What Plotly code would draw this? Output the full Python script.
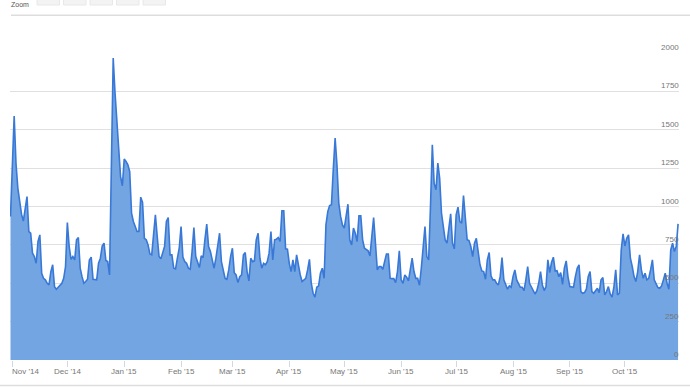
import pandas as pd
import plotly.graph_objects as go

# ---- data (daily values) ----
start_date = "2014-10-31"
oct14 = [935]
nov14 = [1250, 1590, 1280, 1120, 1035, 950, 905, 990, 1065, 837,
         826, 696, 674, 630, 772, 815, 565, 532, 522, 500,
         489, 576, 620, 478, 461, 474, 489, 500, 532, 609]
dec14 = [896, 739, 656, 674, 652, 783, 798, 598, 543, 500,
         511, 526, 652, 670, 526, 522, 522, 630, 663, 743,
         761, 648, 641, 554, 1250, 1967, 1739, 1543, 1370, 1196, 1135]
jan15 = [1309, 1293, 1272, 1228, 957, 902, 870, 837, 837, 1061,
         1026, 793, 783, 750, 691, 685, 815, 946, 804, 674,
         659, 707, 739, 902, 928, 685, 685, 598, 593, 663, 728]
feb15 = [870, 670, 641, 630, 598, 591, 707, 863, 674, 630,
         602, 678, 667, 783, 885, 739, 707, 652, 598, 663,
         761, 826, 641, 587, 532, 526, 587, 674]
mar15 = [728, 569, 554, 504, 543, 554, 685, 700, 576, 515,
         663, 641, 646, 783, 826, 663, 598, 630, 620, 641,
         696, 837, 652, 783, 787, 798, 772, 972, 972, 724, 722]
apr15 = [630, 576, 652, 576, 685, 609, 554, 511, 522, 532,
         587, 656, 500, 435, 409, 474, 483, 565, 598, 532,
         880, 967, 1006, 1011, 1243, 1446, 1272, 1022, 935, 880]
may15 = [859, 940, 1015, 783, 750, 859, 826, 772, 939, 939,
         783, 728, 717, 711, 678, 783, 928, 761, 587, 609,
         609, 591, 648, 691, 691, 532, 530, 530, 504, 576, 711]
jun15 = [522, 500, 554, 539, 515, 591, 663, 576, 532, 532,
         487, 598, 739, 870, 674, 652, 1000, 1402, 1150, 1109,
         1283, 1185, 957, 880, 783, 761, 870, 952, 761, 724]
jul15 = [946, 996, 902, 891, 1072, 935, 783, 778, 739, 674,
         761, 793, 707, 620, 580, 576, 526, 652, 700, 548,
         522, 522, 500, 489, 543, 667, 522, 489, 461, 483, 474]
aug15 = [543, 587, 522, 500, 474, 474, 452, 522, 609, 500,
         474, 457, 430, 452, 500, 576, 489, 452, 478, 652,
         569, 635, 670, 580, 582, 543, 569, 493, 598, 646, 540]
sep15 = [478, 474, 474, 543, 598, 620, 446, 435, 439, 461,
         543, 576, 446, 435, 452, 467, 439, 522, 537, 424,
         446, 478, 430, 409, 474, 587, 424, 435, 717, 822]
oct15 = [743, 793, 815, 663, 609, 543, 511, 576, 685, 587,
         532, 565, 522, 532, 587, 652, 522, 500, 472, 467,
         483, 522, 565, 500, 461, 717, 761, 707, 739, 887]

tick_dates = ["2014-11-01", "2014-12-01", "2015-01-01", "2015-02-01", "2015-03-01",
              "2015-04-01", "2015-05-01", "2015-06-01", "2015-07-01", "2015-08-01",
              "2015-09-01", "2015-10-01"]
tick_labels = ["Nov '14", "Dec '14", "Jan '15", "Feb '15", "Mar '15", "Apr '15",
               "May '15", "Jun '15", "Jul '15", "Aug '15", "Sep '15", "Oct '15"]
y_ticks = [0, 250, 500, 750, 1000, 1250, 1500, 1750, 2000]

values = (oct14 + nov14 + dec14 + jan15 + feb15 + mar15 + apr15 + may15 +
          jun15 + jul15 + aug15 + sep15 + oct15)
dates = pd.date_range(start_date, periods=len(values), freq="D")

# ---- figure geometry ----
W, H = 690, 387
ML, MR, MT, MB = 10, 11, 53, 27
PW, PH = W - ML - MR, H - MT - MB
FONT = "Liberation Sans, Arial"


def px_x(p):
    return (p - ML) / PW


def px_y(q):
    return (H - MB - q) / PH


fig = go.Figure()
fig.add_trace(go.Scatter(
    x=dates, y=values, mode="lines",
    line=dict(color="#3878d6", width=1.6),
    fill="tozeroy", fillcolor="#74a5e3",
    hoverinfo="skip", showlegend=False,
))

annotations = []
for v in y_ticks:
    annotations.append(dict(
        x=1, xref="paper", y=v, yref="y", text=str(v), showarrow=False,
        xanchor="right", yanchor="bottom", yshift=-1, xshift=2,
        font=dict(family=FONT, size=8, color="#777777")))
for i, (d, lab) in enumerate(zip(tick_dates, tick_labels)):
    if i == 0:
        annotations.append(dict(
            x=0, xref="paper", y=px_y(371), yref="paper", text=lab, showarrow=False,
            xanchor="left", yanchor="middle", xshift=0,
            font=dict(family=FONT, size=8, color="#777777")))
    else:
        annotations.append(dict(
            x=d, xref="x", y=px_y(371), yref="paper", text=lab, showarrow=False,
            xanchor="center", yanchor="middle",
            font=dict(family=FONT, size=8, color="#777777")))
annotations.append(dict(
    x=px_x(10), xref="paper", y=px_y(0), yref="paper", text="Zoom", showarrow=False,
    xanchor="left", yanchor="top", borderpad=0,
    font=dict(family=FONT, size=7, color="#555555")))

shapes = []
for bx in [37, 63.5, 90, 116.5, 143]:
    shapes.append(dict(type="rect", xref="paper", yref="paper",
                       x0=px_x(bx), x1=px_x(bx + 22.5), y0=px_y(5), y1=px_y(-12),
                       fillcolor="#f3f3f3", line=dict(color="#e8e8e8", width=1)))
shapes.append(dict(type="line", xref="paper", yref="paper",
                   x0=px_x(11), x1=px_x(690), y0=px_y(15.3), y1=px_y(15.3),
                   line=dict(color="#dddddd", width=1.5)))
shapes.append(dict(type="line", xref="paper", yref="paper",
                   x0=px_x(0), x1=px_x(690), y0=px_y(385.5), y1=px_y(385.5),
                   line=dict(color="#dddddd", width=1.5)))

fig.update_layout(
    width=W, height=H,
    margin=dict(l=ML, r=MR, t=MT, b=MB, pad=0),
    paper_bgcolor="white", plot_bgcolor="white",
    annotations=annotations, shapes=shapes,
    xaxis=dict(
        type="date",
        range=["2014-10-30 17:27", "2015-10-30 12:09"],
        tickvals=tick_dates, ticktext=tick_labels, showticklabels=False,
        ticks="outside", ticklen=6, tickcolor="#cfd8e3", tickwidth=1,
        showgrid=False, zeroline=False, showline=False,
    ),
    yaxis=dict(
        range=[0, 2000], tickvals=y_ticks, showticklabels=False,
        showgrid=True, gridcolor="#e0e0e0", gridwidth=1,
        zeroline=False, showline=False,
    ),
)

fig.write_html("out.html")
